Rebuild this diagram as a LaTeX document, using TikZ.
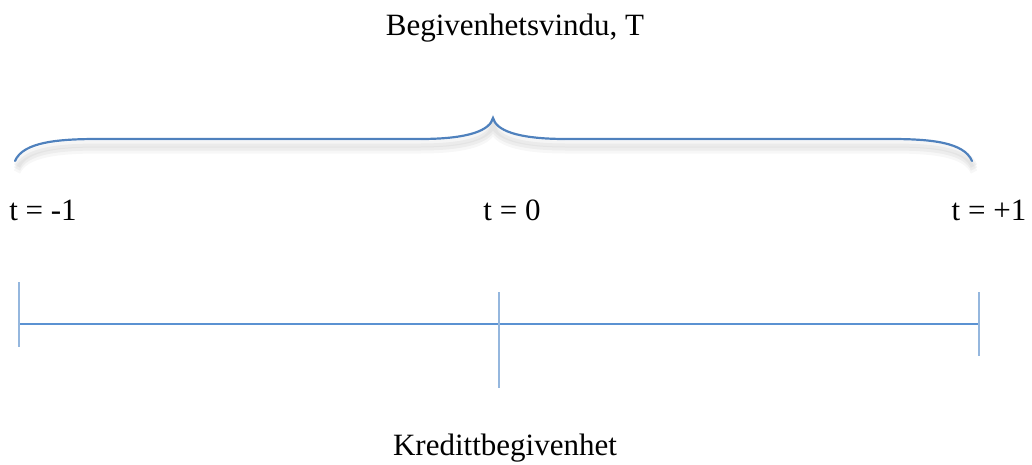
\documentclass[tikz,border=0pt]{standalone}
\usepackage{fontspec}
\setmainfont{Liberation Serif}
\definecolor{bracecol}{RGB}{79,129,189}
\definecolor{tickcol}{RGB}{149,183,222}
\definecolor{linecol}{RGB}{91,146,210}
\tikzset{
  lbl/.style={font=\fontsize{31}{36}\selectfont, inner sep=0pt, anchor=base},
  bracestyle/.style={draw=bracecol, line width=2.2pt, line cap=round},
  tickstyle/.style={draw=tickcol, line width=2pt},
  axisstyle/.style={draw=linecol, line width=1.4pt},
}
\begin{document}
\begin{tikzpicture}[x=1pt,y=-1pt]
\useasboundingbox (0,0) rectangle (1032,464);
\node[lbl] (title) at (515,35) {Begivenhetsvindu, T};
\node[lbl] (tm1) at (43,220) {t = -1};
\node[lbl] (t0) at (512,220) {t = 0};
\node[lbl] (tp1) at (989,220) {t = +1};
\node[lbl] (event) at (505,455) {Kredittbegivenhet};
% brace shadow
\foreach \d/\o in {5/0.04,8/0.04,11/0.03}{
\draw[draw=black,opacity=\o,line width=7pt]
  (17,161+\d) .. controls (25,142+\d) and (60,139+\d) .. (100,139+\d)
  -- (420,139+\d) .. controls (470,139+\d) and (490,130+\d) .. (493,118+\d)
  .. controls (496,130+\d) and (516,139+\d) .. (566,139+\d)
  -- (892,139+\d) .. controls (932,139+\d) and (966,142+\d) .. (974,161+\d);
}
% brace
\coordinate (bl) at (15,161);
\coordinate (bp) at (493,118);
\coordinate (br) at (972,161);
\draw[bracestyle] (bl) .. controls (23,142) and (58,139) .. (98,139)
  -- (420,139) .. controls (470,139) and (490,130) .. (bp)
  .. controls (496,130) and (516,139) .. (566,139)
  -- (890,139) .. controls (930,139) and (964,142) .. (br);
% timeline
\coordinate (a1) at (19,282); \coordinate (a2) at (19,347);
\coordinate (b1) at (499,292); \coordinate (b2) at (499,388);
\coordinate (c1) at (979,292); \coordinate (c2) at (979,356);
\coordinate (L) at (19,324); \coordinate (R) at (979,324);
\draw[axisstyle] (L) -- (R);
\draw[tickstyle] (a1) -- (a2);
\draw[tickstyle] (b1) -- (b2);
\draw[tickstyle] (c1) -- (c2);
\end{tikzpicture}
\end{document}
